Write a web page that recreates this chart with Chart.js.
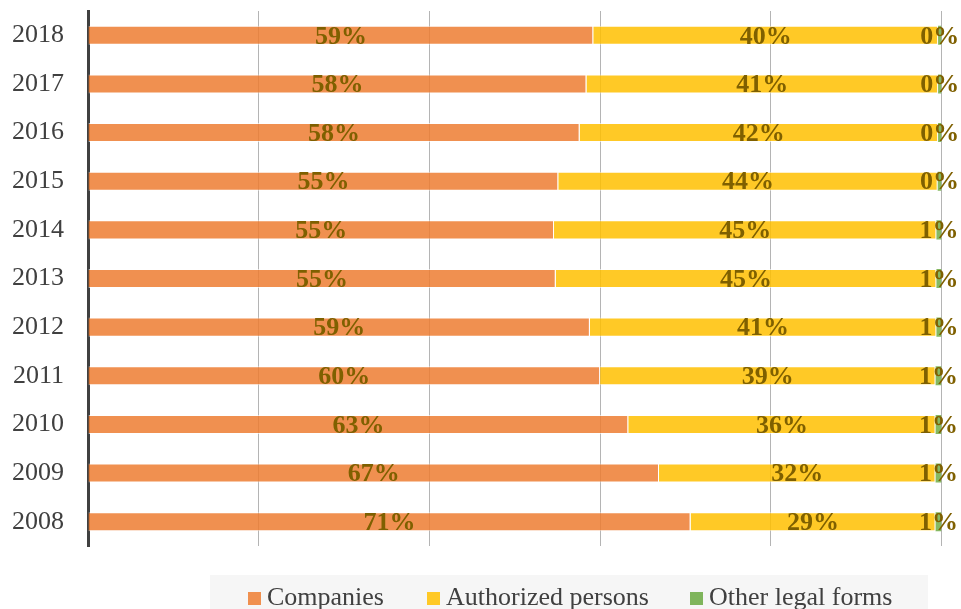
<!DOCTYPE html>
<html><head><meta charset="utf-8">
<script src="https://cdn.jsdelivr.net/npm/chart.js@4/dist/chart.umd.min.js"></script>
<style>html,body{margin:0;padding:0;background:#fff}#wrap{width:961px;height:609px;position:relative}</style>
</head><body><div id="wrap"><canvas id="c" width="961" height="609"></canvas></div>
<script>
const years = ['2008','2009','2010','2011','2012','2013','2014','2015','2016','2017','2018'];
const companies  = [70.6, 66.9, 63.3, 60.0, 58.8, 54.8, 54.6, 55.1, 57.6, 58.4, 59.2];
const authorized = [28.7, 32.4, 36.0, 39.3, 40.6, 44.6, 44.8, 44.45, 42.0, 41.2, 40.4];
const otherForms = [0.7, 0.7, 0.7, 0.7, 0.6, 0.6, 0.6, 0.45, 0.4, 0.4, 0.4];
const seriesNames = ['Companies', 'Authorized persons', 'Other legal forms'];

const colors = ['rgba(237,125,49,0.85)', 'rgba(255,192,0,0.85)', 'rgba(112,173,71,0.85)'];
const legendColors = ['#f0904f', '#ffc926', '#7fb55c'];

const valueLabels = {
  id: 'valueLabels',
  afterDatasetsDraw(chart) {
    const ctx = chart.ctx;
    ctx.save();
    ctx.font = 'bold 26px "Liberation Serif"';
    ctx.fillStyle = '#7f6000';
    ctx.textAlign = 'center';
    ctx.textBaseline = 'middle';
    chart.data.datasets.forEach((ds, i) => {
      const meta = chart.getDatasetMeta(i);
      meta.data.forEach((bar, j) => {
        const v = ds.data[j];
        const x = (bar.x + bar.base) / 2;
        ctx.fillText(Math.round(v) + '%', x, bar.y + 1.5);
      });
    });
    ctx.restore();
  }
};

const customLegend = {
  id: 'customLegend',
  afterDraw(chart) {
    const ctx = chart.ctx;
    ctx.save();
    ctx.fillStyle = '#f6f6f6';
    ctx.fillRect(210, 575, 718, 40);
    ctx.font = '26px "Liberation Serif"';
    ctx.textBaseline = 'alphabetic';
    ctx.textAlign = 'left';
    const box = 13, gapText = 6;
    const starts = [248, 427, 690];
    const base = 605;
    seriesNames.forEach((n, i) => {
      const x = starts[i];
      ctx.fillStyle = legendColors[i];
      ctx.fillRect(x, base - 13, box, box);
      ctx.fillStyle = '#404040';
      ctx.fillText(n, x + box + gapText, base);
    });
    ctx.restore();
  }
};

new Chart(document.getElementById('c'), {
  type: 'bar',
  data: {
    labels: years,
    datasets: [
      { label: seriesNames[0], data: companies, backgroundColor: colors[0], borderColor: 'rgba(255,255,255,0.6)', borderWidth: 1 },
      { label: seriesNames[1], data: authorized, backgroundColor: colors[1], borderColor: 'rgba(255,255,255,0.6)', borderWidth: 1 },
      { label: seriesNames[2], data: otherForms, backgroundColor: colors[2], borderWidth: 0 }
    ]
  },
  options: {
    indexAxis: 'y',
    responsive: false,
    animation: false,
    devicePixelRatio: 1,
    layout: { padding: { top: 11, right: 19.5, bottom: 63, left: 0 } },
    datasets: { bar: { categoryPercentage: 0.8, barPercentage: 0.49 } },
    plugins: { legend: { display: false }, tooltip: { enabled: false } },
    scales: {
      x: {
        stacked: true, min: 0, max: 100,
        ticks: { display: false, stepSize: 20 },
        grid: { color: '#b4b4b4', lineWidth: 1, drawTicks: false },
        border: { display: false },
        afterFit(s) { s.height = 0; s.paddingTop = 0; s.paddingBottom = 0; s.paddingLeft = 0; s.paddingRight = 0; }
      },
      y: {
        stacked: true, reverse: true,
        ticks: { color: '#404040', font: { family: 'Liberation Serif', size: 26 }, padding: 24 },
        grid: { display: false, drawTicks: false },
        border: { display: true, color: '#404040', width: 3 },
        afterFit(s) { s.width = 88; s.paddingTop = 0; s.paddingBottom = 0; s.paddingLeft = 0; s.paddingRight = 0; }
      }
    }
  },
  plugins: [valueLabels, customLegend]
});
</script>
</body></html>
